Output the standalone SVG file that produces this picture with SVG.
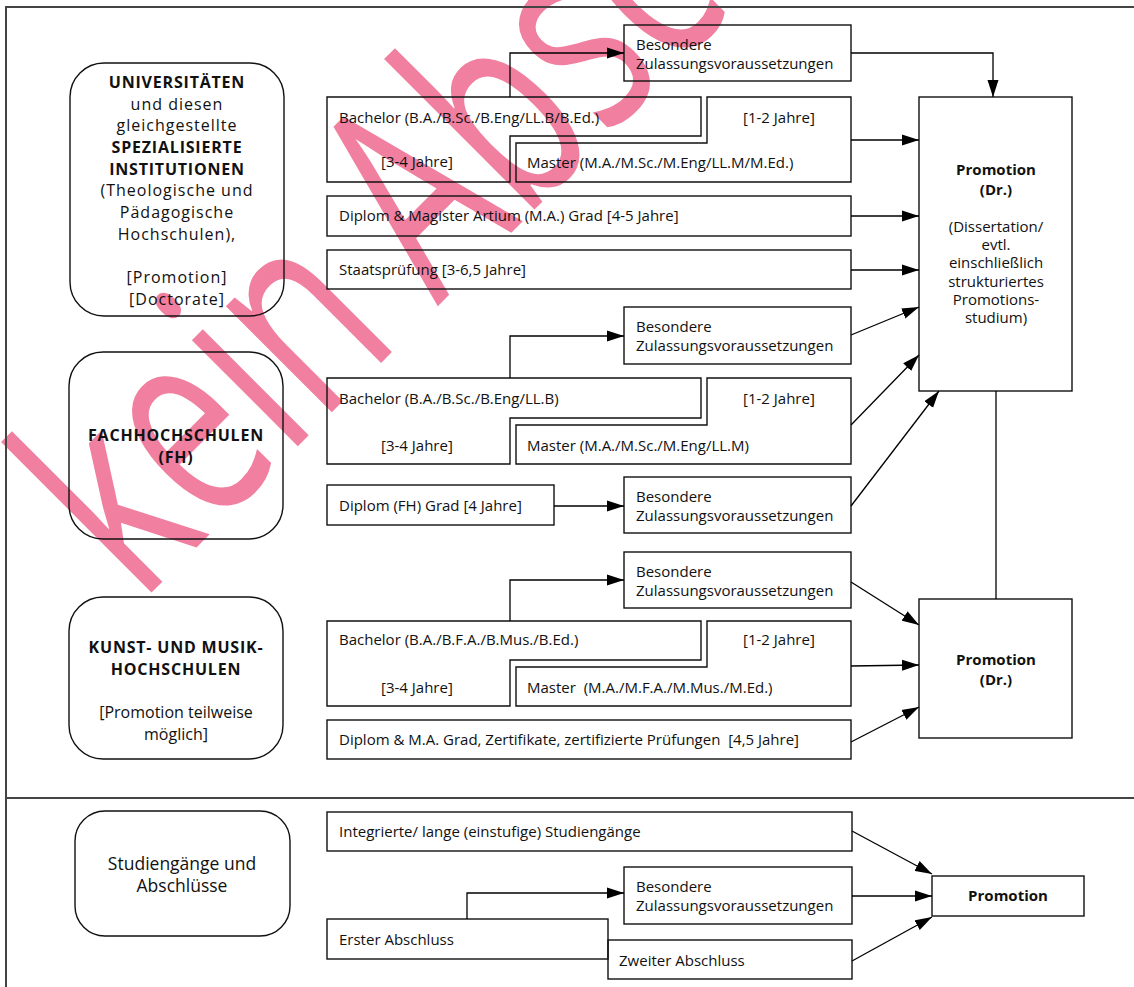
<svg xmlns="http://www.w3.org/2000/svg" width="1134" height="987" viewBox="0 0 1134 987">
<defs>
<marker id="ah" markerUnits="userSpaceOnUse" markerWidth="18" markerHeight="12" refX="17" refY="6" orient="auto"><path d="M0,0.5 L17,6 L0,11.5 z" fill="#000"/></marker>
<style>
.box{fill:none;stroke:#111;stroke-width:1.4}
.frame{stroke:#444;stroke-width:2;fill:none}
text{font-family:"Open Sans","Noto Sans",sans-serif;font-size:15px;fill:#111}
.c{text-anchor:middle}
.b{font-weight:bold}
.l{font-size:16px}
.ls{letter-spacing:0.8px}
.lw{letter-spacing:1px}
#connectors path{fill:none;stroke:#000;stroke-width:1.3}
.arr{marker-end:url(#ah)}
.wm{font-size:280px;fill:#f07fa0}
</style>
</defs>
<rect width="1134" height="987" fill="#fff"/>
<g id="watermark"><text class="wm" transform="translate(140,604) rotate(-45) scale(0.68,1)">kein Absc</text></g>
<g id="frame">
<path class="frame" d="M6,987 V7 H1134 M6,798 H1134"/>
</g>
<g id="universitaeten">
<rect class="box" x="70" y="63" width="214" height="253" rx="34"/>
<text class="c l b ls" x="177" y="88">UNIVERSITÄTEN</text>
<text class="c l lw" x="177" y="110">und diesen</text>
<text class="c l lw" x="177" y="131">gleichgestellte</text>
<text class="c l b ls" x="177" y="153">SPEZIALISIERTE</text>
<text class="c l b ls" x="177" y="175">INSTITUTIONEN</text>
<text class="c l lw" x="177" y="196">(Theologische und</text>
<text class="c l lw" x="177" y="218">Pädagogische</text>
<text class="c l lw" x="177" y="240">Hochschulen),</text>
<text class="c l lw" x="177" y="283">[Promotion]</text>
<text class="c l lw" x="177" y="305">[Doctorate]</text>
</g>
<g id="fachhochschulen">
<rect class="box" x="69" y="352" width="214" height="187" rx="34"/>
<text class="c l b ls" x="176" y="441">FACHHOCHSCHULEN</text>
<text class="c l b ls" x="176" y="463">(FH)</text>
</g>
<g id="kunst">
<rect class="box" x="69" y="597" width="214" height="162" rx="34"/>
<text class="c l b ls" x="176" y="653">KUNST- UND MUSIK-</text>
<text class="c l b ls" x="176" y="675">HOCHSCHULEN</text>
<text class="c l" x="176" y="718">[Promotion teilweise</text>
<text class="c l" x="176" y="740">möglich]</text>
</g>
<g id="studiengaenge">
<rect class="box" x="75" y="811" width="215" height="125" rx="30"/>
<text class="c" style="font-size:17.5px" x="182" y="870">Studiengänge und</text>
<text class="c" style="font-size:17.5px" x="182" y="892">Abschlüsse</text>
</g>
<g id="uni-besondere">
<rect class="box" x="624" y="25" width="227" height="56"/>
<text x="636" y="50">Besondere</text>
<text x="636" y="69">Zulassungsvoraussetzungen</text>
</g>
<g id="uni-bachelor">
<path class="box" d="M327,97 H701 V136 H510 V182 H327 Z"/>
<text x="339" y="123">Bachelor (B.A./B.Sc./B.Eng/LL.B/B.Ed.)</text>
<text x="381" y="167">[3-4 Jahre]</text>
</g>
<g id="uni-master">
<path class="box" d="M516,143 H707 V97 H851 V182 H516 Z"/>
<text x="743" y="123">[1-2 Jahre]</text>
<text x="527" y="168">Master (M.A./M.Sc./M.Eng/LL.M/M.Ed.)</text>
</g>
<g id="uni-diplom">
<rect class="box" x="327" y="196" width="524" height="40"/>
<text x="339" y="221">Diplom &amp; Magister Artium (M.A.) Grad [4-5 Jahre]</text>
</g>
<g id="uni-staats">
<rect class="box" x="327" y="250" width="524" height="39"/>
<text x="339" y="275">Staatsprüfung [3-6,5 Jahre]</text>
</g>
<g id="promotion1">
<rect class="box" x="919" y="97" width="153" height="294"/>
<text class="c b" x="996" y="175">Promotion</text>
<text class="c b" x="996" y="195">(Dr.)</text>
<text class="c" x="996" y="232">(Dissertation/</text>
<text class="c" x="996" y="250">evtl.</text>
<text class="c" x="996" y="268">einschließlich</text>
<text class="c" x="996" y="287">strukturiertes</text>
<text class="c" x="996" y="305">Promotions-</text>
<text class="c" x="996" y="323">studium)</text>
</g>
<g id="fh-besondere1">
<rect class="box" x="624" y="307" width="227" height="57"/>
<text x="636" y="332">Besondere</text>
<text x="636" y="351">Zulassungsvoraussetzungen</text>
</g>
<g id="fh-bachelor">
<path class="box" d="M327,378 H701 V418 H510 V464 H327 Z"/>
<text x="339" y="404">Bachelor (B.A./B.Sc./B.Eng/LL.B)</text>
<text x="381" y="451">[3-4 Jahre]</text>
</g>
<g id="fh-master">
<path class="box" d="M516,425 H707 V378 H851 V464 H516 Z"/>
<text x="743" y="404">[1-2 Jahre]</text>
<text x="527" y="451">Master (M.A./M.Sc./M.Eng/LL.M)</text>
</g>
<g id="fh-diplom">
<rect class="box" x="327" y="485" width="227" height="40"/>
<text x="339" y="511">Diplom (FH) Grad [4 Jahre]</text>
</g>
<g id="fh-besondere2">
<rect class="box" x="624" y="477" width="227" height="56"/>
<text x="636" y="502">Besondere</text>
<text x="636" y="521">Zulassungsvoraussetzungen</text>
</g>
<g id="km-besondere">
<rect class="box" x="624" y="552" width="227" height="56"/>
<text x="636" y="577">Besondere</text>
<text x="636" y="596">Zulassungsvoraussetzungen</text>
</g>
<g id="km-bachelor">
<path class="box" d="M327,621 H701 V660 H510 V706 H327 Z"/>
<text x="339" y="645">Bachelor (B.A./B.F.A./B.Mus./B.Ed.)</text>
<text x="381" y="693">[3-4 Jahre]</text>
</g>
<g id="km-master">
<path class="box" d="M516,667 H707 V621 H851 V706 H516 Z"/>
<text x="743" y="645">[1-2 Jahre]</text>
<text x="527" y="693" xml:space="preserve">Master  (M.A./M.F.A./M.Mus./M.Ed.)</text>
</g>
<g id="km-diplom">
<rect class="box" x="327" y="720" width="524" height="39"/>
<text x="339" y="745" xml:space="preserve">Diplom &amp; M.A. Grad, Zertifikate, zertifizierte Prüfungen  [4,5 Jahre]</text>
</g>
<g id="promotion2">
<rect class="box" x="919" y="599" width="153" height="139"/>
<text class="c b" x="996" y="665">Promotion</text>
<text class="c b" x="996" y="685">(Dr.)</text>
</g>
<g id="integriert">
<rect class="box" x="327" y="812" width="525" height="39"/>
<text x="339" y="837">Integrierte/ lange (einstufige) Studiengänge</text>
</g>
<g id="sa-besondere">
<rect class="box" x="624" y="867" width="228" height="57"/>
<text x="636" y="892">Besondere</text>
<text x="636" y="911">Zulassungsvoraussetzungen</text>
</g>
<g id="erster">
<rect class="box" x="327" y="919" width="281" height="40"/>
<text x="339" y="945">Erster Abschluss</text>
</g>
<g id="zweiter">
<rect class="box" x="608" y="940" width="244" height="39"/>
<text x="619" y="966">Zweiter Abschluss</text>
</g>
<g id="promotion3">
<rect class="box" x="932" y="876" width="152" height="40"/>
<text class="c b" x="1008" y="901">Promotion</text>
</g>
<g id="connectors">
<path class="arr" d="M851,53 H993 V97"/>
<path class="arr" d="M510,97 V53 H624"/>
<path class="arr" d="M851,140 H919"/>
<path class="arr" d="M851,216 H919"/>
<path class="arr" d="M851,270 H919"/>
<path class="arr" d="M851,335 L919,307"/>
<path class="arr" d="M510,378 V336 H624"/>
<path class="arr" d="M851,425 L919,355"/>
<path class="arr" d="M554,506 H624"/>
<path class="arr" d="M851,506 L939,391"/>
<path d="M996,391 V599"/>
<path class="arr" d="M510,621 V580 H624"/>
<path class="arr" d="M851,582 L919,625"/>
<path class="arr" d="M851,666 L919,665"/>
<path class="arr" d="M851,742 L919,707"/>
<path class="arr" d="M852,831 L932,874"/>
<path class="arr" d="M467,919 V893 H624"/>
<path class="arr" d="M852,896 H932"/>
<path class="arr" d="M852,961 L932,917"/>
</g>
</svg>
